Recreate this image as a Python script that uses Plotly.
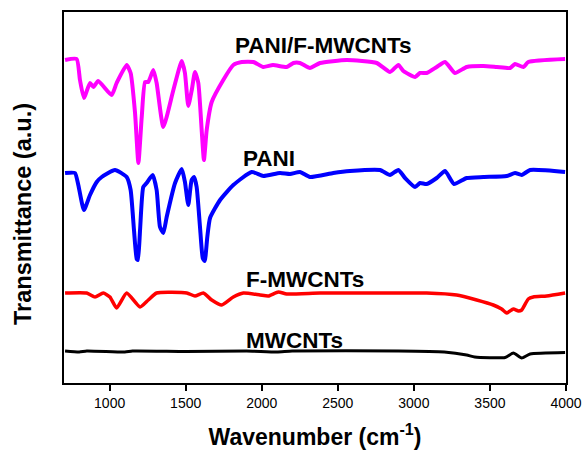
import plotly.graph_objects as go

# PANI/F-MWCNTs (magenta)
wn_pf = [707, 783, 805, 831, 871, 893, 925, 1013, 1046, 1112, 1138, 1167, 1189, 1211, 1233, 1254, 1287, 1309, 1353, 1419,
         1474, 1495, 1517, 1540, 1561, 1583, 1605, 1620, 1638, 1671, 1747, 1813, 1868, 1945, 2010, 2074, 2164, 2208, 2251,
         2317, 2383, 2558, 2756, 2843, 2898, 2931, 3008, 3040, 3084, 3150, 3205, 3270, 3347, 3457, 3545, 3632, 3665, 3720,
         3752, 3994]
t_pf = [323, 324, 303, 285, 300, 296, 302, 288, 300, 318, 310, 270, 220, 266, 301, 301, 313, 300, 256, 293,
        322, 310, 277, 293, 311, 300, 253, 223, 253, 281, 303, 318, 321, 321, 316, 318, 316, 320, 320,
        315, 320, 323, 320, 311, 318, 312, 306, 310, 310, 316, 321, 310, 316, 317, 316, 315, 319, 316,
        321, 324]

# PANI (blue)
wn_pani = [707, 772, 794, 831, 871, 915, 948, 1035, 1112, 1138, 1160, 1178, 1186, 1200, 1221, 1243, 1283, 1309, 1331, 1353,
           1375, 1430, 1474, 1495, 1517, 1539, 1555, 1572, 1594, 1612, 1625, 1642, 1660, 1726, 1813, 1934, 2010, 2120, 2186,
           2251, 2317, 2470, 2580, 2777, 2843, 2898, 2942, 3008, 3040, 3084, 3150, 3205, 3264, 3347, 3457, 3610, 3665, 3709,
           3764, 3994]
t_pani = [210, 210, 198, 173, 188, 201, 206, 213, 206, 193, 153, 124, 123, 153, 196, 200, 208, 193, 156, 150,
          166, 200, 214, 201, 178, 203, 206, 196, 156, 125, 122, 146, 165, 183, 198, 211, 207, 210, 209,
          211, 206, 210, 212, 213, 208, 213, 205, 196, 200, 199, 205, 212, 199, 205, 206, 207, 210, 208,
          213, 211]

# F-MWCNTs (red)
wn_f = [707, 849, 904, 958, 1002, 1046, 1112, 1200, 1254, 1309, 1507, 1561, 1616, 1671, 1737, 1813, 1879, 1989, 2043,
        2109, 2164, 2383, 2690, 3084, 3281, 3413, 3522, 3577, 3610, 3654, 3687, 3709, 3752, 3785, 3873, 3994]
t_f = [90, 90, 86, 90, 86, 75, 90, 76, 83, 90, 90, 87, 90, 83, 78, 86, 90, 88, 87,
       91, 89, 90, 90, 90, 88, 83, 78, 74, 70, 74, 72, 73, 84, 86, 87, 90]

# MWCNTs (black)
wn_m = [707, 800, 850, 1100, 1150, 1500, 1900, 2100, 2200, 2900, 3200, 3347, 3400, 3600, 3654, 3709, 3764, 3994]
t_m = [32, 31, 32, 31, 32, 31.5, 32, 31, 32, 32, 31, 28, 26, 25.5, 30, 25, 29, 30.5]

labels = ["PANI/F-MWCNTs", "PANI", "F-MWCNTs", "MWCNTs"]
label_x = [1810, 1865, 1885, 1885]
label_y = [338, 225, 104, 43]

x_ticks = [1000, 1500, 2000, 2500, 3000, 3500, 4000]

FONT = "Arial, Liberation Sans, sans-serif"

fig = go.Figure()
series = [(wn_pf, t_pf, "#FF00FF", 4), (wn_pani, t_pani, "#0000FF", 4),
          (wn_f, t_f, "#FF0000", 3.5), (wn_m, t_m, "#000000", 3)]
for (x, y, c, w), name in zip(series, labels):
    fig.add_trace(go.Scatter(x=x, y=y, mode="lines", name=name,
                             line=dict(color=c, width=w, shape="spline", smoothing=0.5)))

for t, lx, ly in zip(labels, label_x, label_y):
    fig.add_annotation(x=lx, y=ly, xref="x", yref="y", text=t, showarrow=False,
                       xanchor="left", yanchor="middle",
                       font=dict(family=FONT, size=22.5, color="black", weight="bold"))

fig.add_annotation(x=(23 - 64) / 502, y=(383 - 214) / 371, xref="paper", yref="paper",
                   text="Transmittance (a.u.)", showarrow=False, textangle=-90,
                   xanchor="center", yanchor="middle",
                   font=dict(family=FONT, size=23.5, color="black", weight="bold"))

fig.update_layout(
    width=582, height=452,
    margin=dict(l=64, r=16, t=12, b=69, autoexpand=False),
    paper_bgcolor="white", plot_bgcolor="white",
    showlegend=False,
    font=dict(family=FONT, color="black"),
    xaxis=dict(range=[700, 4000], tickvals=x_ticks, ticks="outside", ticklen=6, tickwidth=1.5,
               tickcolor="black", showline=True, linecolor="black", linewidth=1.5, mirror=True,
               showgrid=False, zeroline=False, tickfont=dict(size=14, family=FONT), automargin=False,
               title=dict(text="Wavenumber (cm<sup>-1</sup>)", standoff=19,
                          font=dict(size=23, family=FONT, weight="bold"))),
    yaxis=dict(range=[0, 371], showticklabels=False, ticks="", showline=True, linecolor="black",
               linewidth=1.5, mirror=True, showgrid=False, zeroline=False, automargin=False),
)

fig.write_html("out.html")
